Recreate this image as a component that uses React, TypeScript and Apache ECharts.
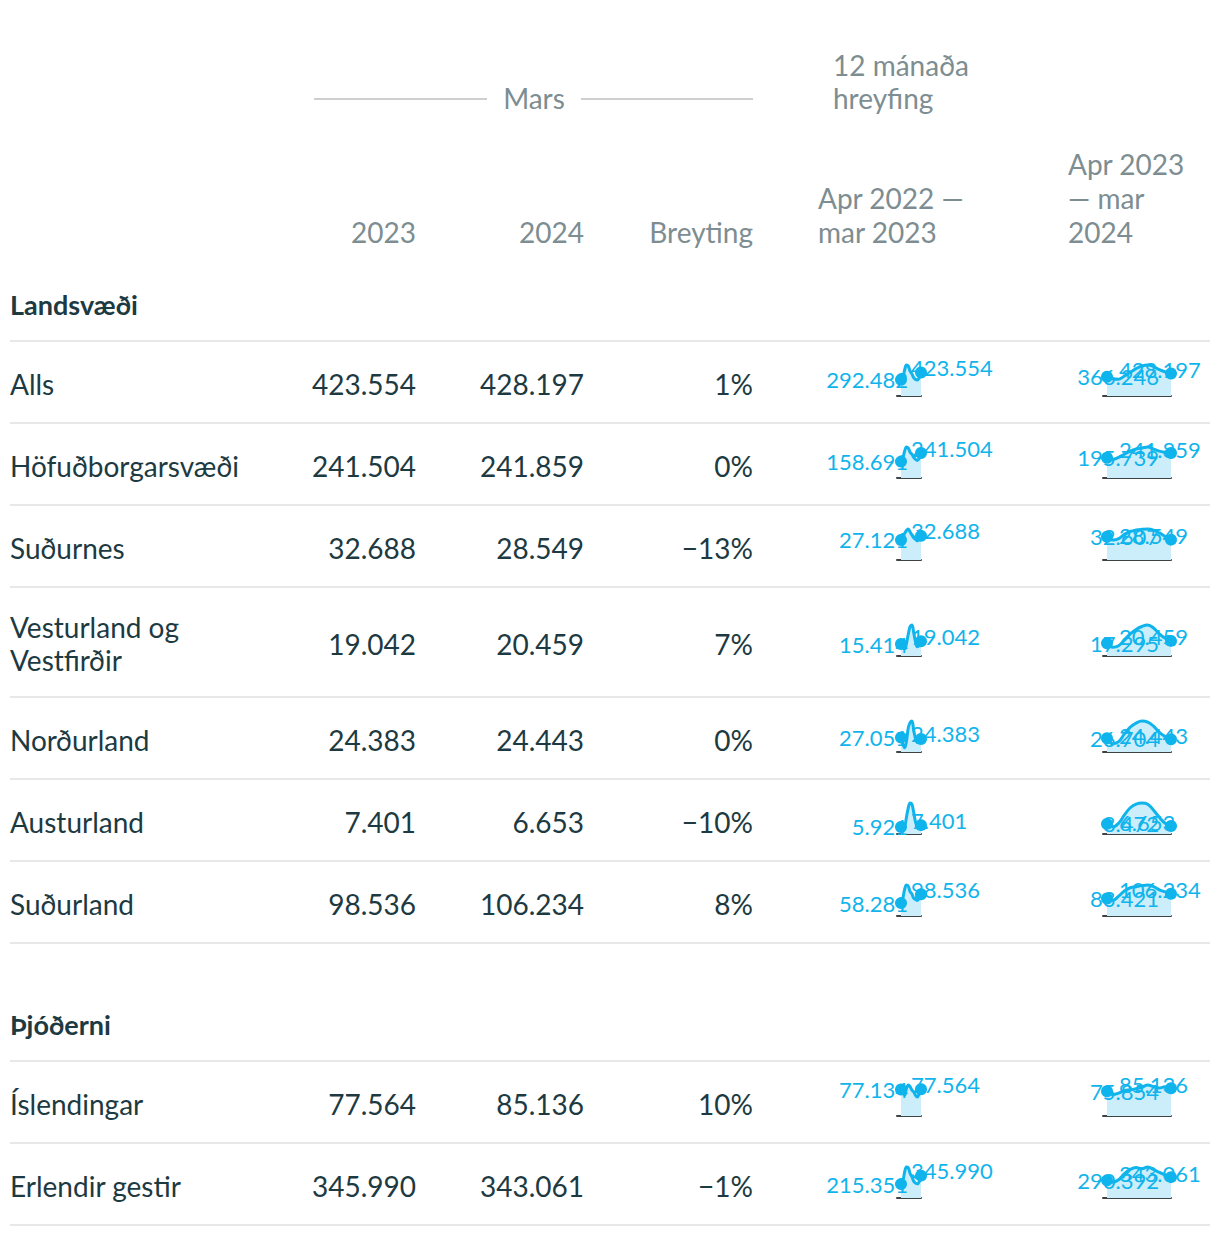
import React, { useEffect, useRef } from "react";
import * as echarts from "echarts";

// ---------- data ----------
const rowLabels = [
  "Alls",
  "Höfuðborgarsvæði",
  "Suðurnes",
  "Vesturland og\nVestfirðir",
  "Norðurland",
  "Austurland",
  "Suðurland",
  "Íslendingar",
  "Erlendir gestir",
];
const mars2023 = [423554, 241504, 32688, 19042, 24383, 7401, 98536, 77564, 345990];
const mars2024 = [428197, 241859, 28549, 20459, 24443, 6653, 106234, 85136, 343061];
const breyting = ["1%", "0%", "−13%", "7%", "0%", "−10%", "8%", "10%", "−1%"];

// Apr 2022 – mar 2023 (monthly)
const spark2022 = [
  [292482, 330000, 470000, 560000, 540000, 450000, 400000, 330000, 300000, 290000, 330000, 423554],
  [158691, 190000, 260000, 300000, 290000, 250000, 230000, 200000, 180000, 170000, 190000, 241504],
  [27121, 30000, 36000, 40000, 42000, 38000, 34000, 30000, 28000, 26000, 28000, 32688],
  [15414, 12000, 9000, 16000, 28000, 38000, 40000, 30000, 18000, 12000, 14000, 19042],
  [27051, 15000, 8000, 20000, 45000, 55000, 58000, 40000, 25000, 18000, 20000, 24383],
  [5921, 4000, 6000, 14000, 22000, 26000, 25000, 18000, 10000, 6000, 5000, 7401],
  [58281, 80000, 120000, 140000, 135000, 110000, 100000, 80000, 75000, 70000, 80000, 98536],
  [77134, 70000, 60000, 80000, 90000, 85000, 75000, 70000, 60000, 55000, 65000, 77564],
  [215351, 260000, 400000, 480000, 470000, 380000, 330000, 260000, 230000, 220000, 250000, 345990],
];
// Apr 2023 – mar 2024 (monthly)
const spark2023 = [
  [366246, 330000, 320000, 380000, 450000, 520000, 570000, 590000, 560000, 500000, 460000, 428197],
  [195739, 180000, 200000, 230000, 260000, 280000, 290000, 300000, 280000, 260000, 250000, 241859],
  [32607, 28000, 30000, 36000, 40000, 42000, 43000, 43500, 42000, 38000, 33000, 28549],
  [17295, 12000, 14000, 22000, 30000, 36000, 40000, 42000, 38000, 30000, 24000, 20459],
  [26704, 16000, 20000, 35000, 48000, 56000, 60000, 58000, 50000, 38000, 30000, 24443],
  [8472, 6000, 9000, 16000, 22000, 25000, 26000, 25000, 20000, 14000, 9000, 6653],
  [83421, 75000, 95000, 120000, 135000, 140000, 145000, 148000, 140000, 125000, 115000, 106234],
  [75854, 66000, 70000, 78000, 80000, 84000, 88000, 95000, 90000, 86000, 90000, 85136],
  [290392, 260000, 300000, 400000, 470000, 500000, 480000, 510000, 470000, 420000, 380000, 343061],
];

const headerCols = ["2023", "2024", "Breyting"];
const sectionTitles = ["Landsvæði", "Þjóðerni"];

// ---------- layout ----------
const FONT = "Lato, 'Noto Sans', sans-serif";
const FS = 28;
const DARK = "#1d3a42";
const GREY = "#7d8d91";
const BLUE = "#10b4ec";
const AREA = "#cbeefa";
const rowY = [384, 466, 548, 644, 740, 822, 904, 1104, 1186];
const sepY = [341, 423, 505, 587, 697, 779, 861, 943, 1061, 1143, 1225];
const valRight = [416, 584, 753];

const fmt = (n: number) => String(n).replace(/\B(?=(\d{3})+(?!\d))/g, ".");

function txt(text: string, x: number, y: number, opts: any = {}) {
  return {
    type: "text",
    silent: true,
    style: {
      text,
      x,
      y,
      fill: opts.fill || DARK,
      fontSize: opts.fontSize || FS,
      fontFamily: FONT,
      fontWeight: opts.fontWeight || "normal",
      align: opts.align || "left",
      textAlign: opts.align || "left",
      verticalAlign: "middle",
      textVerticalAlign: "middle",
    },
  };
}

function buildOption() {
  const graphic: any[] = [];
  // header
  graphic.push({ type: "line", silent: true, shape: { x1: 314, y1: 99, x2: 487, y2: 99 }, style: { stroke: "#cfcfcf", lineWidth: 2 } });
  graphic.push({ type: "line", silent: true, shape: { x1: 581, y1: 99, x2: 753, y2: 99 }, style: { stroke: "#cfcfcf", lineWidth: 2 } });
  graphic.push(txt("Mars", 534, 98, { fill: GREY, align: "center" }));
  graphic.push(txt("12 mánaða", 833, 65, { fill: GREY }));
  graphic.push(txt("hreyfing", 833, 98, { fill: GREY }));
  headerCols.forEach((h, i) => graphic.push(txt(h, valRight[i], 232, { fill: GREY, align: "right" })));
  graphic.push(txt("Apr 2022 —", 818, 198, { fill: GREY }));
  graphic.push(txt("mar 2023", 818, 232, { fill: GREY }));
  graphic.push(txt("Apr 2023", 1068, 164, { fill: GREY }));
  graphic.push(txt("— mar", 1068, 198, { fill: GREY }));
  graphic.push(txt("2024", 1068, 232, { fill: GREY }));
  // section titles
  graphic.push(txt(sectionTitles[0], 10, 304, { fontWeight: "bold", fontSize: 27 }));
  graphic.push(txt(sectionTitles[1], 10, 1024, { fontWeight: "bold", fontSize: 27 }));
  // separators
  sepY.forEach((y) =>
    graphic.push({ type: "line", silent: true, shape: { x1: 10, y1: y, x2: 1210, y2: y }, style: { stroke: "#e8e8e8", lineWidth: 2 } })
  );
  // rows
  rowLabels.forEach((lab, i) => {
    const y = rowY[i];
    const parts = lab.split("\n");
    if (parts.length === 2) {
      graphic.push(txt(parts[0], 10, y - 17));
      graphic.push(txt(parts[1], 10, y + 16));
    } else {
      graphic.push(txt(lab, 10, y));
    }
    graphic.push(txt(fmt(mars2023[i]), valRight[0], y, { align: "right" }));
    graphic.push(txt(fmt(mars2024[i]), valRight[1], y, { align: "right" }));
    graphic.push(txt(breyting[i], valRight[2], y, { align: "right" }));
  });

  const grids: any[] = [];
  const xAxes: any[] = [];
  const yAxes: any[] = [];
  const series: any[] = [];

  const cols = [
    { data: spark2022, left: 897, width: 24, pad: 4, first: [13, 0], last: [-16, -5] },
    { data: spark2023, left: 1103, width: 68, pad: 4, first: [58, 0], last: [-58, -4] },
  ];
  rowY.forEach((cy, r) => {
    cols.forEach((col) => {
      const idx = grids.length;
      const vals = col.data[r];
      const n = vals.length - 1;
      const span = col.width - col.pad;
      grids.push({ left: col.left, width: col.width, top: cy - 19, height: 31, containLabel: false });
      xAxes.push({
        gridIndex: idx,
        type: "value",
        min: -(n * col.pad) / span,
        max: n,
        axisLine: { show: true, onZero: false, lineStyle: { color: "#3e4346", width: 2 } },
        axisTick: { show: false },
        axisLabel: { show: false },
        splitLine: { show: false },
      });
      yAxes.push({ gridIndex: idx, type: "value", min: 0, max: "dataMax", show: false });
      series.push({
        type: "line",
        xAxisIndex: idx,
        yAxisIndex: idx,
        smooth: 0.4,
        clip: false,
        showAllSymbol: true,
        symbol: "circle",
        lineStyle: { color: BLUE, width: 3 },
        itemStyle: { color: BLUE },
        areaStyle: { color: AREA, opacity: 1 },
        data: vals.map((v, i) => {
          const end = i === 0 || i === n;
          return {
            value: [i, v],
            symbolSize: end ? 12 : 0,
            symbol: end ? "circle" : "none",
            label: end
              ? {
                  show: true,
                  position: i === 0 ? "left" : "right",
                  distance: 0,
                  offset: i === 0 ? col.first : col.last,
                  align: i === 0 ? "right" : "left",
                  color: BLUE,
                  fontSize: 22,
                  fontFamily: FONT,
                  formatter: fmt(v),
                }
              : { show: false },
          };
        }),
      });
    });
  });

  return {
    animation: false,
    backgroundColor: "#ffffff",
    grid: grids,
    xAxis: xAxes,
    yAxis: yAxes,
    series,
    graphic,
  };
}

export default function App() {
  const ref = useRef<HTMLDivElement>(null);
  useEffect(() => {
    if (!ref.current) return;
    const chart = echarts.init(ref.current, undefined, { renderer: "svg" });
    chart.setOption(buildOption() as any);
    return () => chart.dispose();
  }, []);
  return (
    <div
      ref={ref}
      style={{ position: "absolute", left: 0, top: 0, width: 1220, height: 1236, background: "#fff" }}
    />
  );
}
